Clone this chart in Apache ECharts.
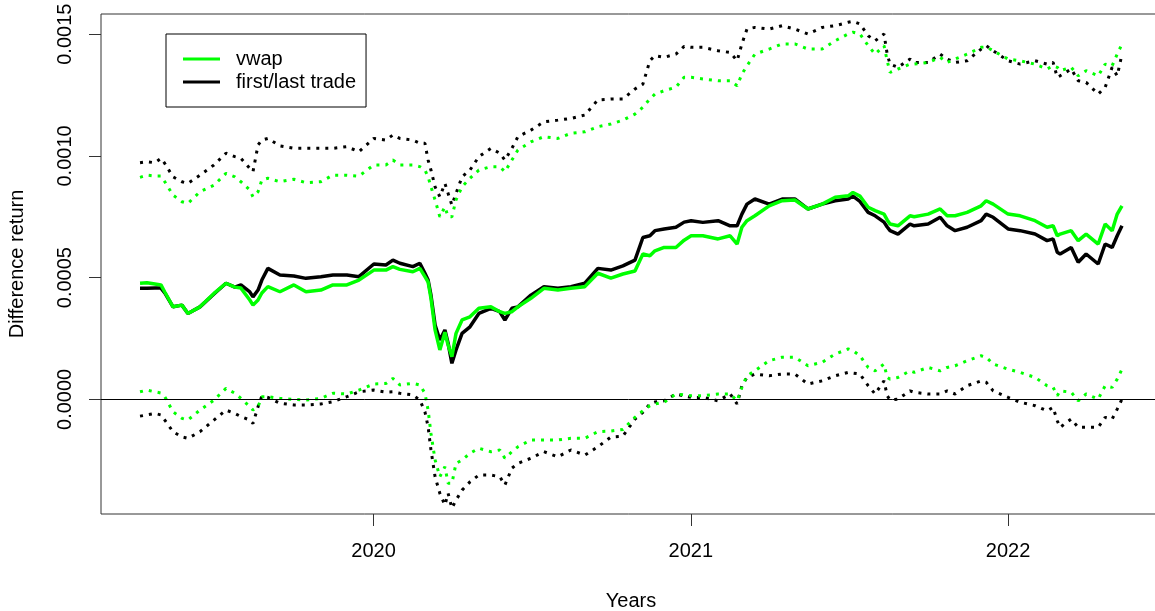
<!DOCTYPE html>
<html>
<head>
<meta charset="utf-8">
<script src="https://cdn.jsdelivr.net/npm/echarts@6/dist/echarts.min.js"></script>
<style>
html,body{margin:0;padding:0;background:#fff;}
#chart{width:1155px;height:611px;}
</style>
</head>
<body>
<div id="chart"></div>
<script>
// x positions in decimal years
const years = [
2019.264,2019.286,2019.311,2019.330,2019.342,2019.368,2019.396,2019.415,2019.453,2019.497,
2019.535,2019.563,2019.582,2019.610,2019.620,2019.636,2019.648,2019.667,2019.705,2019.749,
2019.787,2019.834,2019.872,2019.916,2019.954,2020.001,2020.039,2020.061,2020.083,2020.124,
2020.146,2020.162,2020.172,2020.181,2020.194,2020.209,2020.225,2020.235,2020.247,2020.260,
2020.279,2020.304,2020.332,2020.370,2020.398,2020.414,2020.436,2020.455,2020.496,2020.537,
2020.581,2020.622,2020.666,2020.707,2020.748,2020.786,2020.824,2020.849,2020.871,2020.887,
2020.916,2020.953,2020.979,2021.001,2021.038,2021.086,2021.124,2021.146,2021.161,2021.177,
2021.202,2021.247,2021.288,2021.328,2021.369,2021.414,2021.455,2021.496,2021.511,2021.533,
2021.559,2021.581,2021.609,2021.619,2021.628,2021.653,2021.691,2021.704,2021.748,2021.786,
2021.808,2021.833,2021.871,2021.915,2021.931,2021.953,2022.000,2022.038,2022.085,2022.123,
2022.142,2022.155,2022.164,2022.199,2022.221,2022.246,2022.284,2022.306,2022.328,2022.344,
2022.359];

// values in units of 1e-4
const flMean = [
4.56,4.56,4.57,4.57,4.37,3.80,3.87,3.53,3.80,4.33,
4.77,4.61,4.70,4.41,4.21,4.49,4.90,5.38,5.11,5.07,
4.97,5.04,5.11,5.11,5.04,5.56,5.52,5.72,5.59,5.45,
5.59,5.18,4.90,4.28,3.05,2.44,2.85,2.31,1.48,2.03,
2.71,2.98,3.53,3.74,3.60,3.26,3.74,3.80,4.28,4.63,
4.56,4.63,4.77,5.38,5.31,5.48,5.72,6.65,6.72,6.93,
7.00,7.07,7.28,7.34,7.27,7.34,7.13,7.13,7.61,8.02,
8.23,8.02,8.23,8.23,7.82,8.02,8.16,8.23,8.35,8.13,
7.68,7.54,7.28,7.08,6.93,6.79,7.20,7.13,7.20,7.48,
7.13,6.93,7.07,7.34,7.61,7.48,7.00,6.93,6.79,6.52,
6.59,6.04,5.97,6.24,5.63,5.97,5.56,6.38,6.24,6.72,
7.13];
const vwapMean = [
4.77,4.79,4.74,4.70,4.41,3.80,3.87,3.53,3.80,4.35,
4.77,4.61,4.57,4.08,3.87,4.08,4.37,4.63,4.42,4.70,
4.42,4.49,4.70,4.70,4.90,5.31,5.31,5.45,5.34,5.24,
5.38,5.04,4.82,4.16,2.85,2.03,2.76,2.23,1.75,2.71,
3.26,3.39,3.74,3.80,3.60,3.53,3.60,3.80,4.15,4.56,
4.49,4.56,4.63,5.18,4.98,5.15,5.27,5.97,5.90,6.10,
6.24,6.24,6.54,6.72,6.72,6.59,6.72,6.38,7.07,7.34,
7.54,7.95,8.16,8.19,7.82,8.02,8.30,8.36,8.50,8.35,
7.89,7.75,7.61,7.37,7.20,7.13,7.54,7.50,7.61,7.82,
7.54,7.54,7.68,7.95,8.16,8.02,7.61,7.54,7.34,7.07,
7.13,6.72,6.79,6.93,6.52,6.79,6.38,7.20,6.93,7.61,
7.95];
const flUpper = [
9.72,9.76,9.72,9.90,9.69,9.14,8.94,8.87,9.21,9.63,
10.11,9.97,9.90,9.49,9.35,10.45,10.65,10.72,10.41,10.31,
10.31,10.31,10.31,10.38,10.17,10.72,10.65,10.86,10.72,10.65,
10.52,10.52,9.83,9.42,8.73,8.32,8.87,8.46,7.98,8.46,
9.14,9.42,9.97,10.31,10.11,9.83,10.31,10.79,11.06,11.40,
11.47,11.54,11.68,12.30,12.34,12.34,12.75,12.95,13.91,14.12,
14.05,14.18,14.50,14.46,14.46,14.32,14.25,13.91,14.60,15.21,
15.28,15.21,15.35,15.21,15.01,15.28,15.35,15.49,15.53,15.42,
14.94,14.73,15.01,14.18,13.77,13.64,13.98,13.84,13.84,14.18,
13.98,13.84,13.91,14.39,14.53,14.32,13.91,13.77,13.91,13.77,
13.84,13.23,13.29,13.57,13.09,13.02,12.54,12.82,13.64,13.29,
14.18];
const vwapUpper = [
9.12,9.21,9.17,9.17,8.94,8.39,8.12,8.05,8.53,8.80,
9.28,9.14,8.94,8.60,8.32,8.53,9.01,9.08,8.94,9.04,
8.90,8.94,9.21,9.21,9.17,9.63,9.63,9.83,9.63,9.63,
9.56,9.42,9.14,8.73,8.19,7.50,7.91,7.50,7.50,8.19,
8.73,9.08,9.42,9.56,9.56,9.35,9.83,10.24,10.58,10.79,
10.72,10.93,10.99,11.20,11.31,11.47,11.72,12.00,12.34,12.54,
12.68,12.82,13.23,13.23,13.16,13.09,13.09,12.88,13.36,13.70,
14.18,14.39,14.60,14.60,14.39,14.39,14.73,15.01,15.08,15.01,
14.53,14.18,14.53,13.91,13.43,13.57,13.77,13.77,13.84,14.05,
13.84,13.98,14.18,14.46,14.48,14.32,13.98,13.91,13.77,13.57,
13.70,13.64,13.50,13.64,13.29,13.50,13.29,13.77,13.70,14.18,
14.60];
const flLower = [
-0.69,-0.64,-0.58,-0.64,-0.85,-1.33,-1.54,-1.60,-1.33,-0.85,
-0.44,-0.58,-0.71,-0.85,-0.99,-0.30,0.14,0.08,-0.16,-0.23,
-0.23,-0.19,-0.10,0.11,0.31,0.38,0.30,0.31,0.25,0.18,
-0.03,-0.51,-1.13,-2.08,-3.18,-3.86,-4.34,-3.86,-4.47,-4.14,
-3.73,-3.39,-3.11,-3.11,-3.18,-3.52,-2.83,-2.63,-2.42,-2.15,
-2.36,-2.08,-2.29,-1.95,-1.55,-1.51,-0.81,-0.53,-0.19,-0.11,
-0.06,0.22,0.14,0.08,0.08,-0.06,0.22,-0.19,0.56,0.90,
1.04,0.97,1.04,1.04,0.63,0.76,0.97,1.11,1.08,1.04,
0.56,0.22,0.76,0.15,-0.03,0.01,0.35,0.29,0.22,0.22,
0.35,0.22,0.56,0.76,0.70,0.35,0.08,-0.12,-0.26,-0.47,
-0.33,-0.88,-1.15,-0.81,-1.15,-1.15,-1.15,-0.74,-0.81,-0.40,
0.01];
const vwapLower = [
0.31,0.38,0.31,0.26,0.11,-0.51,-0.78,-0.85,-0.44,-0.03,
0.45,0.25,0.04,-0.30,-0.44,-0.30,0.11,0.11,0.04,0.00,
-0.03,0.04,0.25,0.22,0.38,0.63,0.65,0.86,0.59,0.66,
0.59,0.25,-0.44,-1.40,-2.49,-3.18,-2.77,-3.45,-3.45,-2.63,
-2.49,-2.22,-2.01,-2.15,-2.08,-2.42,-2.15,-1.95,-1.67,-1.67,
-1.67,-1.60,-1.60,-1.33,-1.30,-1.24,-0.74,-0.47,-0.26,-0.19,
-0.12,0.22,0.18,0.15,0.15,0.22,0.22,-0.06,0.49,0.97,
1.17,1.59,1.73,1.73,1.38,1.52,1.86,2.07,2.00,1.79,
1.31,1.17,1.45,0.90,0.83,0.90,1.17,1.11,1.31,1.17,
1.31,1.38,1.59,1.79,1.73,1.45,1.24,1.11,0.90,0.56,
0.49,0.15,0.35,0.29,-0.06,0.22,0.01,0.56,0.49,0.83,
1.24];

const xTicks = [2020, 2021, 2022];
const yTicks = [0, 0.0005, 0.0010, 0.0015];
const UNIT = 1e-4;

function pairs(arr){ return years.map((x,i)=>[x, arr[i]*UNIT]); }

const FONT = "'Liberation Sans', Arial, sans-serif";
const GREEN = '#00ff00', BLACK = '#000000';
const dotted = { width: 3, type: [3, 6], cap: 'butt' };

const chart = echarts.init(document.getElementById('chart'), null, {renderer:'canvas'});
chart.setOption({
  animation: false,
  backgroundColor: '#ffffff',
  textStyle: { fontFamily: FONT },
  grid: { left: 101, top: 14, width: 1060, height: 500, show: true, borderColor: '#333', borderWidth: 1, containLabel: false, outerBoundsMode: 'none' },
  legend: {
    data: ['vwap', 'first/last trade'],
    left: 166, top: 34, orient: 'vertical',
    padding: [15, 10, 15, 17], itemGap: 3,
    itemWidth: 37, itemHeight: 3, icon: 'rect',
    borderColor: '#000', borderWidth: 1, backgroundColor: '#fff',
    textStyle: { fontSize: 20, color: '#000', fontFamily: FONT, padding: [0,0,0,11] }
  },
  xAxis: {
    type: 'value', min: 2019.141, max: 2022.482,
    name: 'Years', nameLocation: 'middle', nameGap: 77,
    nameTextStyle: { fontSize: 20, color: '#000', fontFamily: FONT },
    axisLine: { show: false, onZero: false },
    splitLine: { show: false },
    axisTick: { show: true, length: 12, customValues: xTicks, lineStyle: { color: '#333', width: 1 } },
    axisLabel: { customValues: xTicks, fontSize: 20, color: '#000', margin: 27, fontFamily: FONT, formatter: v => String(Math.round(v)) }
  },
  yAxis: {
    type: 'value', min: -0.000471, max: 0.001583,
    name: 'Difference return', nameLocation: 'middle', nameGap: 74, nameRotate: 90,
    nameTextStyle: { fontSize: 20, color: '#000', fontFamily: FONT },
    axisLine: { show: false, onZero: false },
    splitLine: { show: false },
    axisTick: { show: true, length: 12, customValues: yTicks, lineStyle: { color: '#333', width: 1 } },
    axisLabel: { customValues: yTicks, rotate: 90, fontSize: 20, color: '#000', margin: 26, fontFamily: FONT, formatter: v => v.toFixed(4) }
  },
  series: [
    { name: 'first/last trade upper', type: 'line', data: pairs(flUpper), showSymbol: false, symbol: 'none', color: BLACK, lineStyle: Object.assign({color: BLACK}, dotted), z: 2 },
    { name: 'first/last trade lower', type: 'line', data: pairs(flLower), showSymbol: false, symbol: 'none', color: BLACK, lineStyle: Object.assign({color: BLACK}, dotted), z: 2 },
    { name: 'vwap upper', type: 'line', data: pairs(vwapUpper), showSymbol: false, symbol: 'none', color: GREEN, lineStyle: Object.assign({color: GREEN}, dotted), z: 3 },
    { name: 'vwap lower', type: 'line', data: pairs(vwapLower), showSymbol: false, symbol: 'none', color: GREEN, lineStyle: Object.assign({color: GREEN}, dotted), z: 3,
      markLine: { silent: true, symbol: ['none','none'], label: { show: false }, lineStyle: { color: '#000', width: 1, type: 'solid' }, data: [{ yAxis: 0 }] } },
    { name: 'first/last trade', type: 'line', data: pairs(flMean), showSymbol: false, symbol: 'none', color: BLACK, lineStyle: { color: BLACK, width: 3.5 }, z: 4 },
    { name: 'vwap', type: 'line', data: pairs(vwapMean), showSymbol: false, symbol: 'none', color: GREEN, lineStyle: { color: GREEN, width: 3.5 }, z: 5 }
  ]
});
</script>
</body>
</html>
